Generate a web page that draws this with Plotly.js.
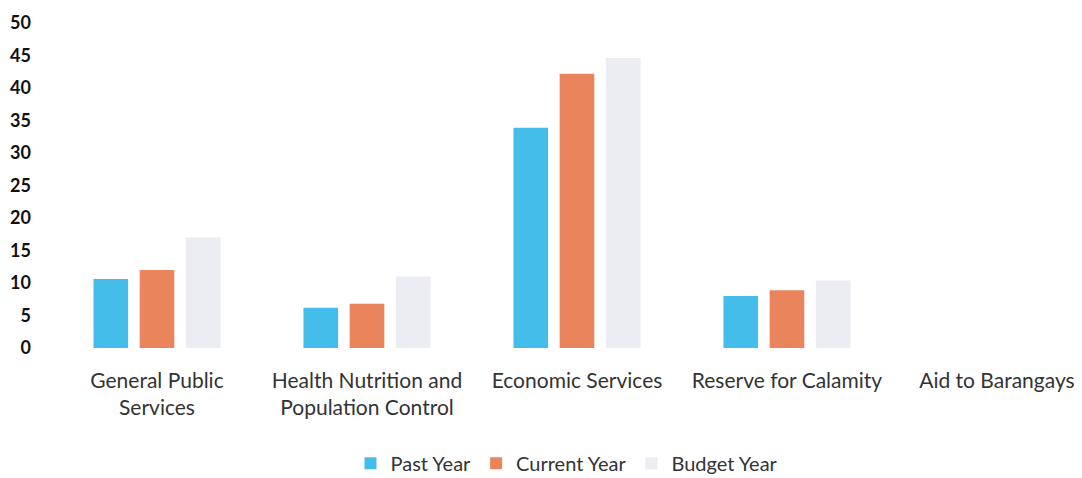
<!DOCTYPE html>
<html><head><meta charset="utf-8">
<script src="https://cdn.plot.ly/plotly-3.0.1.min.js"></script>
<style>html,body{margin:0;padding:0;background:#fff}#c{width:1082px;height:478px}</style>
</head><body><div id="c"></div>
<script>
const categories = ["General Public<br>Services", "Health Nutrition and<br>Population Control", "Economic Services", "Reserve for Calamity", "Aid to Barangays"];
const pastYear = [10.6, 6.2, 33.9, 8.0, 0];
const currentYear = [12.0, 6.8, 42.2, 8.9, 0];
const budgetYear = [17.0, 11.0, 44.6, 10.4, 0];
const seriesNames = ["Past Year", "Current Year", "Budget Year"];
const yTicks = [0, 5, 10, 15, 20, 25, 30, 35, 40, 45, 50];

const colors = ["#45bdeb", "#e9845c", "#ececf3"];
const data = [pastYear, currentYear, budgetYear].map((vals, i) => ({
  type: "bar", x: categories, y: vals, name: seriesNames[i],
  marker: {color: colors[i]}
}));

const layout = {
  width: 1082, height: 478,
  margin: {l: 52, r: 0, t: 23, b: 130},
  paper_bgcolor: "#fff", plot_bgcolor: "#fff",
  barmode: "group", bargap: 0.34, bargroupgap: 0.25,
  font: {family: "Lato, 'Open Sans', sans-serif", size: 17, color: "#333"},
  xaxis: {type: "category", range: [-0.5, 4.405], showline: false, showgrid: false, zeroline: false,
          ticks: "", ticklabelstandoff: 18, tickfont: {size: 21, color: "#333"}, fixedrange: true},
  yaxis: {range: [0, 50], tickvals: yTicks, showgrid: false, zeroline: false, showline: false,
          ticks: "", ticklabelstandoff: 20,
          tickfont: {size: 18, color: "#111", weight: "bold"}},
  legend: {orientation: "h", x: 0.5, xanchor: "center", yref: "container", y: 0.031, yanchor: "middle",
           font: {size: 20, color: "#333"}, itemwidth: 30, traceorder: "normal"},
  showlegend: true
};
Plotly.newPlot("c", data, layout, {staticPlot: true});
</script></body></html>
